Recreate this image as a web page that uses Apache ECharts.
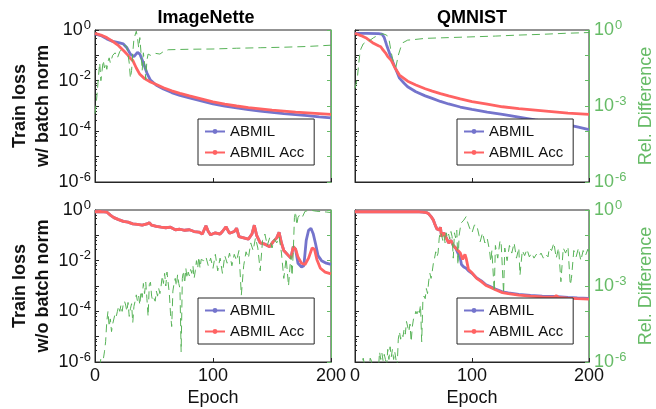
<!DOCTYPE html>
<html>
<head>
<meta charset="utf-8">
<script src="https://cdn.jsdelivr.net/npm/echarts@6/dist/echarts.min.js"></script>
<style>
  html, body { margin: 0; padding: 0; background: #fff; }
  #chart { width: 656px; height: 409px; }
</style>
</head>
<body>
<div id="chart"></div>
<script>
// region data (losses are read as log10 exponents off the log axes)

// ImageNette, with batch norm
const inBnAbmilEpoch = [0, 5, 10, 15, 20, 24, 27, 30, 33, 36, 38, 41, 44, 47, 52, 58, 65, 72, 80, 90, 100, 110, 120, 130, 140, 150, 160, 170, 180, 190, 200]
const inBnAbmilLog = [-0.15, -0.22, -0.35, -0.45, -0.5, -0.55, -0.7, -0.95, -1.05, -0.88, -0.95, -1.3, -1.7, -1.98, -2.18, -2.33, -2.47, -2.58, -2.68, -2.8, -2.92, -3.0, -3.07, -3.14, -3.2, -3.25, -3.3, -3.34, -3.38, -3.43, -3.47]
const inBnAccEpoch = [0, 5, 10, 15, 20, 25, 28, 30, 32, 35, 38, 42, 47, 52, 58, 65, 72, 80, 90, 100, 110, 120, 130, 140, 150, 160, 170, 180, 190, 200]
const inBnAccLog = [-0.13, -0.2, -0.3, -0.45, -0.62, -0.85, -1.0, -1.12, -1.2, -1.5, -1.75, -1.92, -2.05, -2.15, -2.28, -2.4, -2.5, -2.6, -2.72, -2.84, -2.93, -3.0, -3.06, -3.11, -3.16, -3.2, -3.24, -3.27, -3.3, -3.33]
const inBnDiffEpoch = [0, 1, 2, 3, 4, 5, 6, 7, 8, 9, 10, 11, 12, 13, 15, 17, 19, 21, 23, 25, 27, 29, 30, 31, 32, 33, 34, 35, 36, 37, 38, 39, 40, 41, 42, 43, 44, 45, 47, 49, 51, 55, 58, 62, 70, 80, 100, 120, 140, 160, 180, 200]
const inBnDiffLog = [-3.3, -2.9, -2.4, -1.8, -1.3, -2.0, -1.6, -1.2, -1.5, -1.3, -1.55, -1.25, -1.1, -1.3, -1.0, -0.9, -1.1, -0.85, -0.75, -0.6, -0.65, -1.3, -1.9, -1.6, -0.9, -0.35, -0.2, -0.05, -0.3, -0.7, -0.3, -0.9, -1.6, -0.9, -1.3, -1.95, -1.2, -0.95, -1.0, -0.95, -0.92, -0.95, -0.85, -0.78, -0.77, -0.76, -0.75, -0.72, -0.7, -0.68, -0.65, -0.6]

// QMNIST, with batch norm
const qmBnAbmilEpoch = [0, 10, 20, 23, 25, 27, 29, 31, 34, 38, 42, 45, 52, 60, 66, 73, 80, 90, 100, 113, 126, 140, 154, 168, 182, 190, 200]
const qmBnAbmilLog = [-0.13, -0.13, -0.14, -0.16, -0.3, -0.59, -0.85, -1.12, -1.45, -1.9, -2.1, -2.24, -2.44, -2.6, -2.7, -2.82, -2.92, -3.04, -3.13, -3.24, -3.33, -3.44, -3.55, -3.65, -3.75, -3.82, -3.93]
const qmBnAccEpoch = [0, 5, 10, 15, 20, 22, 23.5, 26, 28, 31, 34, 38, 45, 52, 60, 66, 73, 80, 90, 100, 113, 126, 140, 154, 168, 182, 200]
const qmBnAccLog = [-0.13, -0.22, -0.33, -0.5, -0.62, -0.66, -0.76, -0.9, -1.05, -1.2, -1.48, -1.78, -2.02, -2.17, -2.32, -2.41, -2.51, -2.6, -2.72, -2.83, -2.93, -3.03, -3.1, -3.16, -3.22, -3.28, -3.33]
const qmBnDiffEpoch = [0, 1, 2, 3, 4, 5, 7, 10, 13, 16, 20, 24, 27, 29, 31, 33, 35, 37, 39, 41, 45, 50, 60, 80, 100, 120, 140, 160, 180, 200]
const qmBnDiffLog = [-2.3, -2.1, -1.9, -1.4, -1.0, -0.75, -0.55, -0.45, -0.4, -0.3, -0.2, -0.15, -0.2, -0.35, -0.9, -1.3, -1.45, -1.0, -0.7, -0.5, -0.4, -0.38, -0.33, -0.3, -0.27, -0.24, -0.2, -0.17, -0.13, -0.1]

// ImageNette, without batch norm (both runs coincide up to epoch 170)
const inNoSharedEpoch = [0, 5, 10, 13, 16, 20, 24, 28, 32, 36, 40, 44, 46, 48, 52, 56, 60, 64, 68, 72, 76, 80, 84, 88, 91, 94, 96, 98, 102, 106, 108, 111, 114, 118, 120, 122, 126, 130, 133, 135, 137, 140, 144, 148, 151, 154, 156, 158, 160, 163, 166, 168, 170]
const inNoSharedLog = [-0.07, -0.06, -0.08, -0.2, -0.3, -0.38, -0.45, -0.48, -0.55, -0.57, -0.6, -0.55, -0.5, -0.6, -0.65, -0.68, -0.7, -0.68, -0.78, -0.76, -0.8, -0.78, -0.85, -0.87, -0.95, -0.62, -0.85, -0.98, -0.9, -0.95, -0.85, -0.66, -0.92, -0.85, -0.72, -1.05, -1.1, -1.15, -0.95, -0.6, -1.0, -1.3, -1.35, -1.45, -1.25, -1.1, -0.88, -1.3, -1.6, -1.75, -1.9, -1.45, -1.55]
const inNoAbmilTailEpoch = [172, 175, 177, 179, 181, 183, 185, 187, 189, 192, 196, 200]
const inNoAbmilTailLog = [-2.1, -2.25, -2.2, -1.2, -0.8, -0.72, -0.95, -1.35, -1.8, -2.0, -2.1, -2.15]
const inNoAccTailEpoch = [172, 175, 178, 181, 184, 186, 188, 191, 195, 200]
const inNoAccTailLog = [-1.85, -2.1, -2.15, -1.9, -1.5, -1.55, -1.95, -2.3, -2.45, -2.52]
const inNoDiffEpoch = [4, 5, 6, 7, 8, 9, 10, 11, 12, 13, 14, 15, 16, 17, 18, 19, 20, 21, 22, 23, 24, 25, 26, 27, 28, 29, 30, 31, 32, 33, 34, 35, 36, 37, 38, 39, 40, 41, 42, 43, 44, 45, 46, 47, 48, 49, 50, 51, 52, 53, 54, 55, 56, 57, 58, 59, 60, 61, 62, 63, 64, 65, 66, 67, 68, 69, 70, 71, 72, 73, 74, 75, 76, 77, 78, 79, 80, 81, 82, 83, 84, 85, 86, 87, 88, 89, 90,
  92, 94, 96, 98, 100, 102, 104, 106, 108, 110, 112, 114, 116, 118, 120, 122, 124, 126, 128, 130, 132, 134, 136, 138, 140, 142, 144, 146, 148, 150, 152, 154, 156, 158, 160, 162, 164, 166,
  167, 168, 169, 170, 171, 172, 174, 176, 178, 180, 184, 188, 192, 196, 200]
const inNoDiffLog = [-6.2, -5.85, -5.8, -5.9, -5.6, -5.2, -4.4, -4.0, -4.6, -4.3, -4.8, -4.5, -4.3, -4.1, -4.2, -4.0, -3.8, -4.0, -3.75, -4.0, -3.7, -3.6, -3.75, -4.0, -3.65, -4.2, -3.9, -3.7, -4.45, -3.8, -3.6, -3.35, -3.6, -3.4, -3.75, -3.2, -3.45, -2.9, -3.3, -2.85, -3.5, -4.2, -2.95, -2.85, -3.4, -3.6, -3.5, -3.6, -3.2, -3.4, -3.1, -3.3, -3.0, -2.6, -2.9, -2.5, -3.0, -2.45, -2.5, -3.3, -4.1, -4.6, -3.2, -2.9, -2.7, -3.0, -2.55, -2.9, -3.1, -5.6, -2.7, -2.4, -2.9, -2.3, -2.7, -2.45, -2.6, -2.35, -2.5, -2.2, -2.7, -2.4, -2.0, -2.3, -1.85, -2.3, -1.95,
  -2.0, -1.85, -2.2, -1.9, -2.3, -1.75, -2.4, -1.9, -2.5, -1.8, -2.1, -1.7, -2.2, -1.75, -2.0, -1.6, -3.36, -2.2, -1.65, -1.9, -1.3, -1.6, -1.1, -1.5, -2.4, -1.2, -0.95, -1.4, -1.1, -1.5, -1.15, -1.3, -1.05, -1.7, -2.7, -1.9, -3.0, -1.8,
  -2.6, -1.7, -0.3, -0.07, -0.6, -0.3, -0.15, -0.25, -0.05, -0.03, -0.02, -0.05, -0.06, -0.08, -0.1]

// QMNIST, without batch norm (both runs coincide up to epoch 86)
const qmNoSharedEpoch = [0, 20, 40, 55, 58, 61, 63, 65, 67, 68, 70, 72, 73, 74, 76, 77, 79, 80, 82, 84, 86]
const qmNoSharedLog = [-0.07, -0.07, -0.07, -0.07, -0.08, -0.1, -0.15, -0.26, -0.4, -0.53, -0.75, -0.79, -0.68, -1.05, -0.9, -0.95, -1.2, -1.3, -1.2, -1.4, -1.5]
const qmNoAbmilTailEpoch = [88, 90, 91, 93, 95, 97, 100, 104, 108, 112, 116, 120, 126, 131, 140, 150, 160, 170, 182, 190, 200]
const qmNoAbmilTailLog = [-1.7, -1.9, -2.15, -2.25, -2.3, -2.4, -2.5, -2.68, -2.8, -2.95, -3.03, -3.12, -3.23, -3.27, -3.33, -3.37, -3.4, -3.41, -3.45, -3.47, -3.49]
const qmNoAccTailEpoch = [88, 90, 92, 94, 95, 97, 100, 104, 108, 112, 116, 120, 126, 131, 140, 150, 160, 170, 172, 174, 182, 190, 200]
const qmNoAccTailLog = [-1.6, -1.7, -1.95, -1.75, -1.9, -2.35, -2.48, -2.7, -2.83, -2.98, -3.06, -3.15, -3.26, -3.3, -3.36, -3.4, -3.43, -3.44, -3.38, -3.45, -3.48, -3.5, -3.52]
const qmNoDiffEpoch = [3, 5, 7, 8, 9, 12, 13, 14, 15, 20, 21, 22, 23, 24, 25, 26, 27, 28, 29, 30, 31, 32, 33, 34, 36, 37, 38, 39, 40, 41, 42, 43, 44, 45, 46, 47, 48, 49, 50, 51, 52, 53, 54, 55, 56, 57, 58, 59, 60, 61, 62, 63, 64, 65, 66, 67, 68, 69, 70, 71, 72, 73, 74, 75, 76, 77, 78, 79, 80, 81, 82, 83, 84, 85, 86, 87, 88, 89, 90, 91, 92, 93, 94, 95, 96, 98, 100, 102, 104, 106,
  107, 109, 111, 113, 115, 116, 117, 119, 120, 122, 124, 125, 127, 128, 130, 132, 134, 136, 138, 140, 141, 143, 145, 147, 149, 151, 153, 155, 157, 159, 161, 163, 165, 166, 168, 170, 172, 174, 176, 178, 180, 182, 184, 185, 187, 189, 191, 193, 195, 197, 199, 200]
const qmNoDiffLog = [-6.2, -6.3, -5.85, -5.9, -6.3, -6.3, -5.85, -5.95, -6.3, -6.3, -5.6, -5.9, -5.65, -5.95, -5.7, -5.9, -6.2, -5.5, -5.9, -5.4, -5.8, -5.5, -5.9, -5.6, -6.2, -5.1, -4.8, -5.1, -4.9, -5.0, -4.7, -4.9, -4.4, -4.34, -4.8, -4.5, -5.2, -4.6, -4.3, -4.2, -4.0, -4.1, -3.9, -4.05, -3.75, -5.2, -3.6, -3.4, -3.5, -3.1, -3.3, -2.8, -2.5, -2.7, -2.43, -2.1, -1.9, -1.65, -1.85, -1.7, -1.1, -0.86, -1.0, -1.2, -0.99, -1.3, -0.9, -1.1, -0.95, -1.15, -0.85, -1.05, -1.9, -0.9, -1.1, -0.8, -2.17, -1.0, -0.7, -0.5, -0.45, -0.4, -0.35, -0.26, -0.45, -0.72, -0.9, -0.6, -0.59, -1.0,
  -1.25, -0.9, -1.3, -1.12, -1.6, -2.04, -1.6, -3.22, -1.4, -1.9, -1.2, -1.38, -3.3, -1.5, -2.0, -1.4, -1.7, -1.3, -1.9, -1.5, -2.57, -1.6, -1.8, -1.55, -1.85, -1.7, -1.9, -1.75, -1.85, -1.7, -1.9, -1.75, -1.85, -1.5, -1.6, -1.3, -1.9, -1.5, -2.83, -1.5, -1.7, -1.45, -2.96, -2.7, -1.6, -1.85, -1.5, -2.0, -1.6, -1.8, -1.55, -1.7]

const titles = ['ImageNette', 'QMNIST']
const rowNames = ['Train loss\nw/ batch norm', 'Train loss\nw/o batch norm']
const legendNames = ['ABMIL', 'ABMIL Acc']

// endregion

const INK = '#262626'
const BLUE = '#7474cc'
const RED = '#ff6363'
const GREEN = '#58b358'
const GREEN_TEXT = '#66bb66'
const FONT = 'Liberation Sans'

function pairs(epochs, logs) {
  return epochs.map((e, i) => [e, Math.pow(10, logs[i])])
}

// 10^n labels, only every `step` decades
function powLabel(step) {
  return function (v) {
    const e = Math.round(Math.log10(v))
    if (e % step !== 0) return ''
    return '{b|10}{s|' + (e === 0 ? '0' : e) + '}'
  }
}

function powRich(color) {
  return {
    b: {fontSize: 18, fontFamily: FONT, color: color},
    s: {fontSize: 13, fontFamily: FONT, color: color, padding: [0, 0, 10, 1]}
  }
}

const panels = [
  {left: 95, top: 30, col: 0, row: 0, abmil: pairs(inBnAbmilEpoch, inBnAbmilLog), acc: pairs(inBnAccEpoch, inBnAccLog), diff: pairs(inBnDiffEpoch, inBnDiffLog)},
  {left: 355, top: 30, col: 1, row: 0, abmil: pairs(qmBnAbmilEpoch, qmBnAbmilLog), acc: pairs(qmBnAccEpoch, qmBnAccLog), diff: pairs(qmBnDiffEpoch, qmBnDiffLog)},
  {left: 95, top: 210, col: 0, row: 1,
    abmil: pairs(inNoSharedEpoch.concat(inNoAbmilTailEpoch), inNoSharedLog.concat(inNoAbmilTailLog)),
    acc: pairs(inNoSharedEpoch.concat(inNoAccTailEpoch), inNoSharedLog.concat(inNoAccTailLog)),
    diff: pairs(inNoDiffEpoch, inNoDiffLog)},
  {left: 355, top: 210, col: 1, row: 1,
    abmil: pairs(qmNoSharedEpoch.concat(qmNoAbmilTailEpoch), qmNoSharedLog.concat(qmNoAbmilTailLog)),
    acc: pairs(qmNoSharedEpoch.concat(qmNoAccTailEpoch), qmNoSharedLog.concat(qmNoAccTailLog)),
    diff: pairs(qmNoDiffEpoch, qmNoDiffLog)}
]

const grid = [], xAxis = [], yAxis = [], series = [], legend = []

panels.forEach((p, i) => {
  const bottomRow = p.row === 1
  const leftCol = p.col === 0
  grid.push({left: p.left, top: p.top, width: 236, height: 152, show: true, borderColor: INK, borderWidth: 1, containLabel: false})
  xAxis.push({
    gridIndex: i, type: 'value', min: 0, max: 200, interval: 100,
    axisLine: {lineStyle: {color: INK}},
    axisTick: {inside: true, length: 4, lineStyle: {color: INK}},
    axisLabel: {show: bottomRow, fontSize: 18, fontFamily: FONT, color: '#111', margin: 5},
    splitLine: {show: false},
    name: bottomRow ? 'Epoch' : '', nameLocation: 'middle', nameGap: 27,
    nameTextStyle: {fontSize: 18, fontFamily: FONT, color: '#111'}
  })
  yAxis.push({
    gridIndex: i, type: 'log', logBase: 10, min: 1e-6, max: 1, interval: 1, position: 'left',
    axisLine: {show: true, lineStyle: {color: INK}},
    axisTick: {show: true, inside: true, length: 4, lineStyle: {color: INK}},
    minorTick: {show: true, splitNumber: 5, length: 2, lineStyle: {color: INK}},
    axisLabel: {show: leftCol, formatter: powLabel(2), rich: powRich('#111'), margin: 4},
    splitLine: {show: false},
    name: leftCol ? rowNames[p.row] : '', nameLocation: 'middle', nameRotate: 90, nameGap: 39,
    nameTextStyle: {fontSize: 18, fontWeight: 'bold', fontFamily: FONT, color: '#111', lineHeight: 23}
  })
  yAxis.push({
    gridIndex: i, type: 'log', logBase: 10, min: 1e-6, max: 1, interval: 1, position: 'right',
    axisLine: {show: true, lineStyle: {color: GREEN_TEXT}},
    axisTick: {show: true, inside: true, length: 4, lineStyle: {color: GREEN_TEXT}},
    axisLabel: {show: !leftCol, formatter: powLabel(3), rich: powRich(GREEN_TEXT), margin: 5},
    splitLine: {show: false},
    name: leftCol ? '' : 'Rel. Difference', nameLocation: 'middle', nameRotate: 90, nameGap: 48,
    nameTextStyle: {fontSize: 18, fontFamily: FONT, color: GREEN_TEXT}
  })
  series.push({
    type: 'line', name: legendNames[0], xAxisIndex: i, yAxisIndex: 2 * i, data: p.abmil,
    showSymbol: false, symbol: 'circle', symbolSize: 4,
    lineStyle: {width: 2.8, color: BLUE}, itemStyle: {color: BLUE}, z: 2
  })
  series.push({
    type: 'line', name: legendNames[1], xAxisIndex: i, yAxisIndex: 2 * i, data: p.acc,
    showSymbol: false, symbol: 'circle', symbolSize: 4,
    lineStyle: {width: 2.8, color: RED}, itemStyle: {color: RED}, z: 3
  })
  series.push({
    type: 'line', name: 'Rel. Difference', xAxisIndex: i, yAxisIndex: 2 * i + 1, data: p.diff,
    showSymbol: false, symbol: 'none',
    lineStyle: {width: 1, type: [8, 5], color: GREEN}, z: 4
  })
  legend.push({
    data: legendNames, orient: 'vertical', selectedMode: false,
    left: leftCol ? 198 : 457, top: bottomRow ? 298 : 119,
    backgroundColor: '#fff', borderColor: INK, borderWidth: 1, borderRadius: 0,
    padding: [5, 10, 5, 6], itemGap: 6, itemWidth: 20, itemHeight: 6,
    textStyle: {fontSize: 15, fontFamily: FONT, color: '#111', lineHeight: 14}
  })
})

const chart = echarts.init(document.getElementById('chart'))
chart.setOption({
  animation: false,
  backgroundColor: '#fff',
  title: [
    {text: titles[0], left: 201, top: 4, textAlign: 'center', textStyle: {fontSize: 18, fontWeight: 'bold', fontFamily: FONT, color: '#000'}},
    {text: titles[1], left: 467, top: 4, textAlign: 'center', textStyle: {fontSize: 18, fontWeight: 'bold', fontFamily: FONT, color: '#000'}}
  ],
  legend: legend,
  grid: grid,
  xAxis: xAxis,
  yAxis: yAxis,
  series: series
})
</script>
</body>
</html>
